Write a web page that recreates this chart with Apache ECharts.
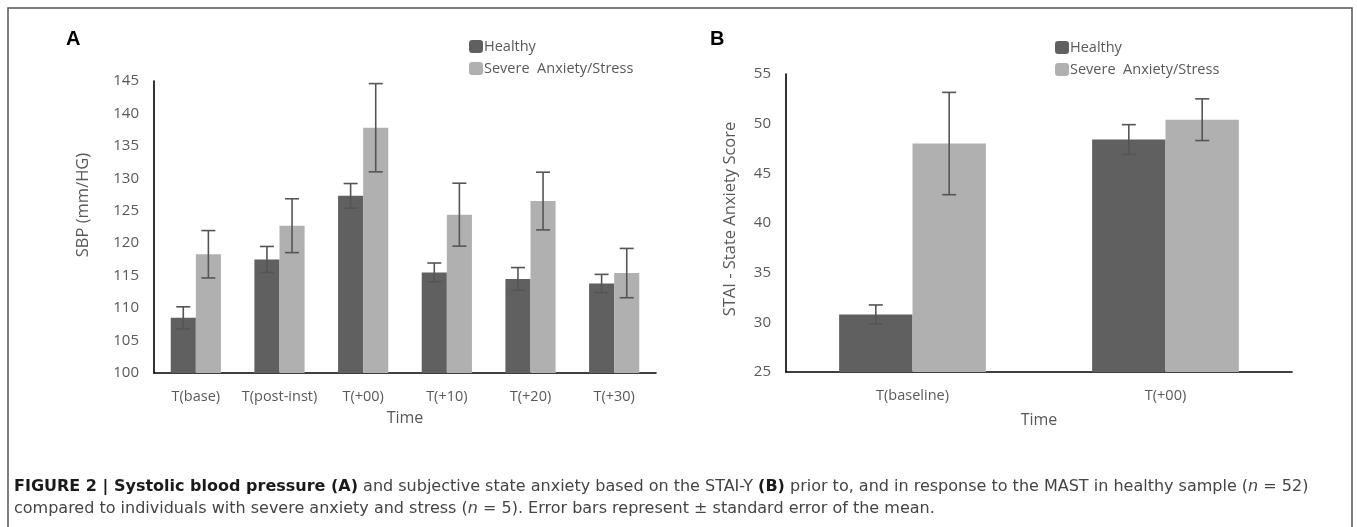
<!DOCTYPE html>
<html>
<head>
<meta charset="utf-8">
<script src="https://cdn.jsdelivr.net/npm/echarts@6/dist/echarts.min.js"></script>
<style>
    html, body { margin: 0; padding: 0; background: #fff; }
    #chart { width: 1357px; height: 527px; }
</style>
</head>
<body>
<div id="chart"></div>
<script>
// panel A - systolic blood pressure
var timesA = ['T(base)', 'T(post-inst)', 'T(+00)', 'T(+10)', 'T(+20)', 'T(+30)'];
var healthyA = [108.5, 117.5, 127.3, 115.5, 114.5, 113.8];
var healthyA_se = [1.7, 2.0, 1.9, 1.45, 1.75, 1.4];
var severeA = [118.3, 122.7, 137.8, 124.4, 126.5, 115.4];
var severeA_se = [3.65, 4.15, 6.8, 4.85, 4.45, 3.8];

// panel B - STAI state anxiety
var timesB = ['T(baseline)', 'T(+00)'];
var healthyB = [30.8, 48.4];
var healthyB_se = [0.95, 1.5];
var severeB = [48.0, 50.4];
var severeB_se = [5.15, 2.1];

var groupNames = ['Healthy', 'Severe  Anxiety/Stress'];

var darkGray = '#606060';
var lightGray = '#b0b0b0';
var textGray = '#595959';
var font = 'Open Sans';
var capFont = 'DejaVu Sans';
var capSize = 16;

function errData(means, se) {
    return means.map(function (m, i) {
        return [i, m - se[i], m + se[i]];
    });
}

// error bar drawn at a fraction of the band width from the category centre
function errorBar(offset) {
    return function (params, api) {
        var idx = api.value(0);
        var lo = api.coord([idx, api.value(1)]);
        var hi = api.coord([idx, api.value(2)]);
        var band = api.size([1, 0])[0];
        var x = lo[0] + band * offset;
        var cap = 7;
        var st = { stroke: '#555', lineWidth: 1.6 };
        return {
            type: 'group',
            children: [
                { type: 'line', shape: { x1: x, y1: lo[1], x2: x, y2: hi[1] }, style: st },
                { type: 'line', shape: { x1: x - cap, y1: hi[1], x2: x + cap, y2: hi[1] }, style: st },
                { type: 'line', shape: { x1: x - cap, y1: lo[1], x2: x + cap, y2: lo[1] }, style: st }
            ]
        };
    };
}

function xAxisOf(gridIndex, cats, gap) {
    return {
        type: 'category',
        gridIndex: gridIndex,
        data: cats,
        name: 'Time',
        nameLocation: 'middle',
        nameGap: gap,
        nameTextStyle: { color: textGray, fontFamily: font, fontSize: 16 },
        axisLine: { lineStyle: { color: '#000', width: 1.6 } },
        axisTick: { show: false },
        axisLabel: { color: textGray, fontFamily: font, fontSize: 14.5, margin: 16, interval: 0 },
        splitLine: { show: false }
    };
}

function yAxisOf(gridIndex, min, max, name, gap, shiftUp) {
    return {
        type: 'value',
        gridIndex: gridIndex,
        min: min,
        max: max,
        interval: 5,
        name: name,
        nameLocation: 'middle',
        nameGap: gap,
        // left padding in the rotated frame moves the title up the axis
        nameTextStyle: { color: textGray, fontFamily: font, fontSize: 16.5, padding: [0, 0, 0, shiftUp * 2] },
        axisLine: { show: true, lineStyle: { color: '#000', width: 1.6 } },
        axisTick: { show: false },
        axisLabel: { color: textGray, fontFamily: font, fontSize: 15, margin: 15 },
        splitLine: { show: false }
    };
}

function legendAt(left, top) {
    return {
        left: left,
        top: top,
        orient: 'vertical',
        itemWidth: 14,
        itemHeight: 13,
        itemGap: 7,
        selectedMode: false,
        data: groupNames,
        textStyle: { color: textGray, fontFamily: font, fontSize: 14.5, padding: [0, 0, 0, -4] }
    };
}

var chart = echarts.init(document.getElementById('chart'));

var option = {
    animation: false,
    backgroundColor: '#fff',
    grid: [
        { left: 154, top: 81, width: 502, height: 292 },
        { left: 786, top: 74, width: 506, height: 298 }
    ],
    legend: [legendAt(464, 34), legendAt(1050, 35)],
    xAxis: [xAxisOf(0, timesA, 37), xAxisOf(1, timesB, 40)],
    yAxis: [
        yAxisOf(0, 100, 145, 'SBP (mm/HG)', 62, 22),
        yAxisOf(1, 25, 55, 'STAI - State Anxiety Score', 47, 4)
    ],
    series: [
        { name: groupNames[0], type: 'bar', xAxisIndex: 0, yAxisIndex: 0, data: healthyA,
          barWidth: '30%', barGap: '0%', itemStyle: { color: darkGray } },
        { name: groupNames[1], type: 'bar', xAxisIndex: 0, yAxisIndex: 0, data: severeA,
          barWidth: '30%', barGap: '0%', itemStyle: { color: lightGray } },
        { name: groupNames[0], type: 'bar', xAxisIndex: 1, yAxisIndex: 1, data: healthyB,
          barWidth: '29%', barGap: '0%', itemStyle: { color: darkGray } },
        { name: groupNames[1], type: 'bar', xAxisIndex: 1, yAxisIndex: 1, data: severeB,
          barWidth: '29%', barGap: '0%', itemStyle: { color: lightGray } },
        { type: 'custom', xAxisIndex: 0, yAxisIndex: 0, z: 5, renderItem: errorBar(-0.15),
          encode: { x: 0, y: [1, 2] }, data: errData(healthyA, healthyA_se) },
        { type: 'custom', xAxisIndex: 0, yAxisIndex: 0, z: 5, renderItem: errorBar(0.15),
          encode: { x: 0, y: [1, 2] }, data: errData(severeA, severeA_se) },
        { type: 'custom', xAxisIndex: 1, yAxisIndex: 1, z: 5, renderItem: errorBar(-0.145),
          encode: { x: 0, y: [1, 2] }, data: errData(healthyB, healthyB_se) },
        { type: 'custom', xAxisIndex: 1, yAxisIndex: 1, z: 5, renderItem: errorBar(0.145),
          encode: { x: 0, y: [1, 2] }, data: errData(severeB, severeB_se) }
    ],
    graphic: [
        // frame round the figure
        { type: 'rect', shape: { x: 8, y: 8, width: 1344, height: 540 },
          style: { fill: 'none', stroke: '#555', lineWidth: 1.5 }, silent: true },
        { type: 'text', x: 66, y: 39,
          style: { text: 'A', fontFamily: 'Liberation Sans', fontWeight: 'bold', fontSize: 20,
                   fill: '#000', verticalAlign: 'middle' } },
        { type: 'text', x: 710, y: 39,
          style: { text: 'B', fontFamily: 'Liberation Sans', fontWeight: 'bold', fontSize: 20,
                   fill: '#000', verticalAlign: 'middle' } },
        // caption
        { type: 'text', x: 14, y: 487,
          style: {
              text: '{b|FIGURE 2 | Systolic blood pressure (A)} and subjective state anxiety based on the STAI-Y {b|(B)} prior to, and in response to the MAST in healthy sample ({i|n} = 52)',
              fontFamily: capFont, fontSize: capSize, fill: '#444', verticalAlign: 'middle',
              rich: {
                  b: { fontFamily: capFont, fontSize: capSize, fontWeight: 'bold', fill: '#1a1a1a' },
                  i: { fontFamily: capFont, fontSize: capSize, fontStyle: 'italic', fill: '#444' }
              }
          } },
        { type: 'text', x: 14, y: 509,
          style: {
              text: 'compared to individuals with severe anxiety and stress ({i|n} = 5). Error bars represent \u00b1 standard error of the mean.',
              fontFamily: capFont, fontSize: capSize, fill: '#444', verticalAlign: 'middle',
              rich: {
                  i: { fontFamily: capFont, fontSize: capSize, fontStyle: 'italic', fill: '#444' }
              }
          } }
    ]
};

chart.setOption(option);
</script>
</body>
</html>
